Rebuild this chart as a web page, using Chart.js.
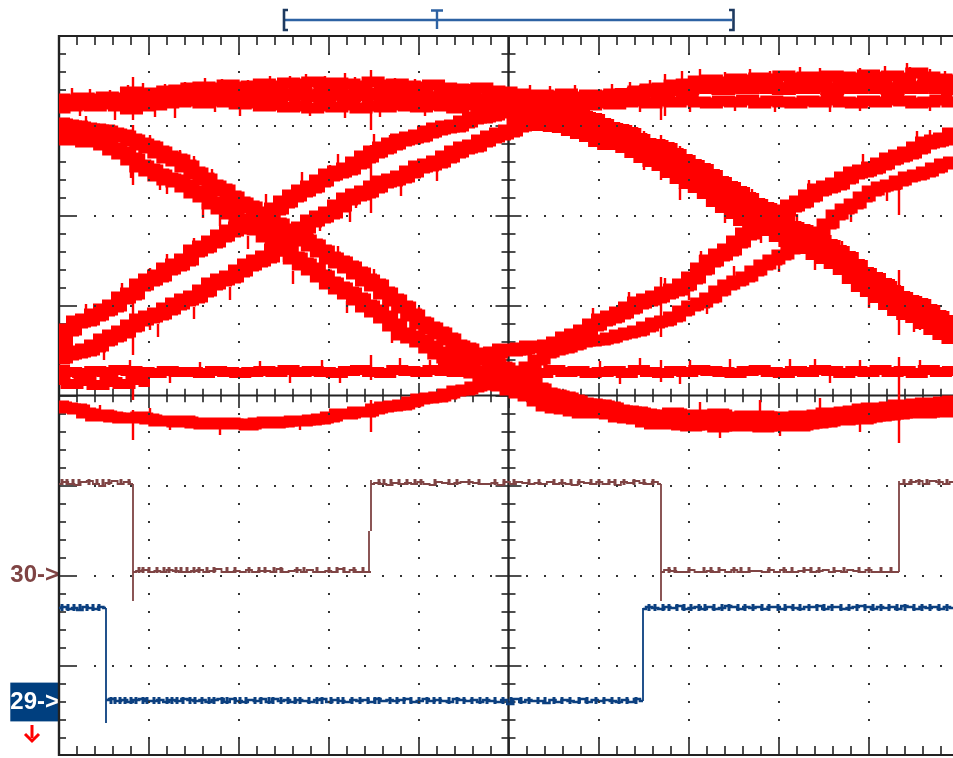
<!DOCTYPE html>
<html><head><meta charset="utf-8">
<style>html,body{margin:0;padding:0;background:#fff}canvas{display:block}</style>
<script src="https://cdn.jsdelivr.net/npm/chart.js@4/dist/chart.umd.min.js"></script>
</head><body><canvas id="c" width="953" height="758"></canvas>
<script>
// Scope units: time counts (1 div = 90) and level counts (1 div = 90)
const timeMax = 894, levelMax = 720, divCounts = 90, minorCounts = 18;
const centerTime = 450, centerLevel = 360;
const channelTicks = [181, 54];
const channelLabels = ["30->", "29->"];

const topUpper = [657,656,658,657,659,658,664,662,663,665,666,668,669,668,671,669,670,672,670,673,672,674,671,673,672,670,674,671,672,670,669,671,668,667,666,668,665,664,662,660,661,660,662,659,661,660,662,661,665,667,668,671,672,675,676,674,677,676,678,677,680,678,679,677,680,679,678,681,679,680,678,683,679,677,676];
const topLower = [648,650,651,650,652,650,647,650,651,653,654,655,653,655,654,652,653,650,651,649,650,648,650,649,651,648,650,649,651,650,649,651,650,648,651,649,650,648,650,649,651,650,652,650,651,653,652,654,655,653,655,654,656,654,653,655,654,656,653,655,654,653,655,654,656,654,653,655,654,656,655,653,654,656,654];
const topMiddle = [654,655,654,656,654,655,656,657,658,657,659,658,660,659,660,661,660,661,662,661,662,660,661,662,660,661,662,660,661,659,660,658,659,657,658,656,657,656,655,656,655,657,656,658,657,659,660,662,663,665,664,666,667,669,668,667,669,668,670,668,667,669,668,670,667,669,668,670,668,667,669,668,670,668,667];
const fallA = [632,630,629,627,626,625,622,620,616,612,609,604,599,596,590,583,577,570,566,559,553,549,542,536,532,526,520,516,511,505,498,494,489,483,476,471,463,456,449,441,433,428,423,417,410,407,402,397,392,388,383,378,373,367,362,360,358,355,352,351,350,348,345,344,343,341,339,340,342,340,338,340,339,341,338,337,339,337,339,338,336,338,339,338,340,342,342,343,344,346,347,346,348,350,350,351,352,352,353,354];
const fallB = [619,617,618,615,615,612,607,603,597,590,586,581,577,575,570,564,560,553,548,543,536,530,527,520,514,506,498,492,487,480,473,468,463,457,450,445,439,431,422,419,415,409,403,399,395,390,384,380,376,371,367,364,361,356,351,349,348,346,344,344,345,343,340,339,338,335,333,333,335,332,331,333,332,330,332,331,333,331,330,332,331,332,331,333,334,335,337,337,339,338,340,341,342,343,344,345,344,346,345,347];
const riseA = [411,426,434,436,441,446,450,458,462,471,476,480,487,491,496,505,509,514,520,525,528,535,541,543,547,554,560,565,569,575,581,584,587,593,599,604,608,612,616,618,620,624,627,629,630,634,638,639,641,644,647,648,649,651,653,653];
const riseB = [398,402,404,406,410,416,420,424,430,436,439,442,447,452,456,459,465,472,476,479,485,491,495,499,506,514,519,528,535,539,543,550,557,561,564,569,574,576,579,584,589,591,594,599,604,608,610,615,619,622,625,630,635,638,640,644,647,648];
const riseC = [390,392,394,397,398,399,403,406,406,407,409,409,410,413,418,421,425,431,436,439,443,448,453,456,459,463,466,471,478,487,495,501,506,514,522,527,532,539,545,550,554,560,566,569,572,578,583,585,588,592,597,600,603,608,613,615,617,622];
const lowCurve = [350,348,347,343,340,341,339,338,338,339,337,335,335,334,335,333,332,333,332,333,332,331,333,334,333,334,335,335,336,337,339,342,342,344,344,347,349,350,351,354,357,358,359,362,365,366,369,371,375,378,380,385,389,396,403,406,408,411,414,415,416,418,421,423,425,429,433,435,439,445,450,453,458,465,471,475,479,485,491,496,501,507,513,518,524,532,541,547,552,559,565,569,571,575,579,581,584,588,592,594];
const fallC = [644,645,643,644,643,644,642,639,638,636,631,627,625,622,616,611,610,607,601,595,590,586,580,573,568,563,557,551,547,542,535,528,525,521,515,510,504,498,490,482,477,471,464,458,454,451,445,439,434,429];
const fallD = [631,633,632,634,632,631,630,627,624,621,616,613,613,610,605,600,596,592,585,579,574,570,564,556,550,544,537,533,531,527,521,516,513,509,503,499,494,488,479,471,466,460,453,447,443,440,434,428,423,419];
const flatBand = [386,384,383,385,384,386,385,384,383,385,384,384,383,385,384,383,384,385,384,386,384,385,384,383,385,386,384,383,386,385,384,386,385,384,386,385,384,383,385,384,383,386,384,385,383,384,385,383,386,384,383,385,384,386,385,384,383,385,386,384,383,385,384,386,385,383,385,384,386,384,385,383,386,384,385];
const flatLeft = [376,372,375,371,374,372,376,374];

const brownHighA = [272,274,272,271,274,275,272,270,273,275,272,274,272];
const brownLowA = [184,185,186,184,185,184,186,185,184,184,185,186,184,185,187,184,184,185,184,186,184,185,185,184,187,184,185,186,184,186,184,184,185,184,187,184,186,184,184,184];
const brownHighB = [272,273,272,271,273,272,273,272,274,272,271,274,273,272,273,274,274,273,272,272,273,271,274,272,274,273,272,273,272,274,272,273,272,271,274,273,272,274,272,274,271,274,273,275,273,272,274,272];
const brownLowB = [184,186,185,184,184,186,184,184,185,184,186,184,186,184,184,185,185,184,186,184,186,184,184,185,186,184,185,186,184,185,184,186,185,184,186,184,184,184,184,184];
const brownHighC = [272,272,274,275,272,275,274,272,274];
const brownLowBlobs = [80,84,90,98,105,110,117,122,128,135,140,148,155,168,176,190,200,206,215,222,238,245,258,270,278,285,295,304,610,616,630,645,652,660,675,682,690,710,725,733,745,752,760,775,785,800,810,822,832];
const brownHighBlobs = [3,8,14,20,30,38,44,50,62,70,320,325,332,340,348,356,362,376,390,398,410,420,436,445,455,470,480,495,503,512,520,532,540,550,556,565,575,585,594,845,852,860,868,880,888];
const brownLowLevel = 184, brownHighLevel = 272, brownBlobHeight = 5;

const blueHighA = [148,149,147,148,146,149,148,147,149,148];
const blueLow = [56,57,55,56,54,56,57,55,55,56,54,56,55,57,56,55,56,54,56,57,54,57,55,54,56,55,57,54,57,55,56,54,56,55,54,56,57,54,56,55,54,56,55,56,54,57,55,56,55,56,57,54,55,57,55,56,55,54,57,56,55,56,54,56,55,54,56,52,57,54,56,55,55,53,56,54,56,55,54,57,54,56,55,56,55,54,56,54,57,55];
const blueHighB = [147,149,148,147,149,148,150,147,148,149,147,149,147,148,150,149,147,149,148,149,147,149,149,147,149,148,147,149,149,150,147,149,149,147,148,149,150,149,147,149,148,149,147,150,149,147,149,148,149,147,149,148];
const blueLowBlobs = [52,56,61,66,72,77,84,88,95,100,108,113,118,124,131,136,143,150,155,163,168,176,181,187,196,202,210,214,222,229,236,241,250,258,263,272,279,284,293,301,309,316,320,331,338,345,352,360,368,375,381,390,398,405,413,421,428,436,444,452,462,470,479,486,495,503,511,520,528,537,545,553,560,568,577];
const blueHighBlobs = [3,9,15,21,28,34,40,590,596,604,610,618,625,632,640,646,655,663,670,679,686,694,703,710,719,726,734,741,750,758,765,773,782,790,798,806,814,822,830,838,846,855,863,871,880,888];
const blueLowLevel = 53, blueHighLevel = 146, blueBlobHeight = 6;

// Glitches and edge roughness: time, level from, level to
const roughTime = [74,74,74,74,74,312,312,312,312,602,602,602,602,840,840,840,840,848,
13,31,51,69,84,106,126,146,163,189,211,231,247,266,286,296,336,356,381,411,431,471,491,516,553,571,591,606,623,641,666,691,711,741,761,779,801,826,851,871,886,
21,56,96,116,156,181,251,286,321,366,581,606,631,676,716,771,801,871,
71,141,201,263,341,371,411,541,581,631,671,731,756,801,861,
111,231,281,561,621,771,
41,91,641,701,761,111,161,241,661,721,801,
56,91,146,271,331,91,181,291,91,121,271,361,101,161,641,701,791,871,661,841,671,821,711,861,
27,63,108,135,171,207,243,279,315,
45,99,135,171,225,261,297,342,378,
27,63,99,135,153,207,243,279,315,360,
72,108,144,189,234,288,333,
585,621,657,693,738,783,837,
585,621,666,702,756,810,855,
534,570,606,642,696,750,804,858,
630,675,648,720,792,828];
const roughFrom = [679,631,453,381,346,686,611,401,356,651,621,479,396,566,486,399,346,693,
668,667,666,671,673,672,674,678,677,676,680,680,682,680,683,679,678,677,674,672,671,671,670,671,672,674,676,682,685,687,684,687,685,689,688,685,688,690,689,687,685,
650,650,652,652,655,654,652,650,650,652,655,655,655,655,655,655,655,655,
396,394,395,396,398,396,396,395,398,396,397,397,397,396,396,
373,373,373,372,372,373,
351,348,354,356,358,326,321,326,318,320,324,
464,488,520,591,621,426,473,534,621,606,511,446,566,530,501,541,586,626,456,566,576,481,514,426,
440,462,488,505,532,550,572,590,610,
408,432,449,469,507,540,562,572,588,
630,618,600,588,575,540,520,498,475,437,
590,574,552,520,485,455,425,
612,598,575,555,530,503,463,
598,568,545,525,498,462,436,
436,452,466,492,532,565,590,612,
456,478,452,495,546,566];
const roughTo = [636,571,401,356,316,626,543,376,324,636,576,419,374,541,421,356,313,681,
656,655,654,659,661,660,662,666,665,664,668,668,670,668,671,667,666,665,662,660,659,659,658,659,660,662,664,670,673,675,672,675,673,677,676,673,676,678,677,675,673,
640,636,639,638,644,640,640,638,639,640,644,640,644,645,644,644,645,645,
384,384,384,384,384,384,384,384,384,384,384,384,384,384,384,
384,384,384,384,384,384,
340,338,342,342,340,336,334,336,332,332,340,
452,476,508,579,609,438,483,546,609,594,499,434,576,542,490,530,575,615,466,576,565,470,525,436,
452,473,502,518,546,562,584,602,622,
396,419,437,456,494,525,548,560,575,
640,628,612,600,587,552,532,510,487,449,
578,562,538,507,472,443,413,
625,610,587,567,542,515,475,
586,556,533,513,486,448,424,
448,464,478,505,544,576,602,625,
466,490,442,484,534,555];

// Small holes left between sweeps
const speckTime = [14,26,13,31,41,56,61,86,111,119,111,131,141,156,166,176,181,10,20,37,43,10,17,60,77,107,127,147,163,187,200,233,247,267,283,273,293,698,746,8,34,44,64,778,801,814,401,414,428,401,374,471,508];
const speckLevel = [639,639,626,623,623,625,614,604,591,584,578,576,573,566,558,546,541,423,419,413,406,399,409,426,426,441,459,468,479,494,501,503,509,496,483,478,466,556,548,463,474,486,494,501,481,474,636,631,633,616,653,656,653];

const brownEdgeTime = [74,310,312,602,840];
const brownEdgeFrom = [272,184,225,272,184];
const brownEdgeTo = [155,225,276,155,275];
const blueEdgeTime = [47,584];
const blueEdgeFrom = [148,55];
const blueEdgeTo = [33,148];

const spread = (x0, x1, vals) => vals.map((y, i) => ({ x: x0 + (x1 - x0) * i / (vals.length - 1), y }));
const bars = (ts, a, b) => ts.flatMap((t, i) => [{ x: t, y: a[i] }, { x: t, y: b[i] }, { x: t, y: null }]);
const blobs = (ts, level, h) => ts.flatMap(t => [{ x: t, y: level - 1 }, { x: t, y: level + h }, { x: t, y: null }]);

const RED = '#ff0000', BROWN = '#7f4444', BLUE = '#0c4080', INK = '#222222';
const stepLine = (data, color, width) => ({ data, borderColor: color, borderWidth: width, pointRadius: 0, stepped: 'middle', borderJoinStyle: 'miter', borderCapStyle: 'butt', spanGaps: false, fill: false });
const plainLine = (data, color, width) => ({ data, borderColor: color, borderWidth: width, pointRadius: 0, borderCapStyle: 'butt', spanGaps: false, fill: false, tension: 0 });
// each slanted band is swept twice, a little apart in time (scope jitter)
const jitter = 4;
const sweep = (x0, x1, vals, width) => [stepLine(spread(x0, x1, vals), RED, width), stepLine(spread(x0 + jitter, x1 + jitter, vals), RED, width - 2)];

const datasets = [
  stepLine(spread(0, timeMax, topUpper), RED, 11),
  stepLine(spread(0, timeMax, topLower), RED, 11),
  stepLine(spread(0, timeMax, topMiddle), RED, 12),
  ...sweep(0, timeMax, fallA, 13),
  ...sweep(0, timeMax, fallB, 13),
  ...sweep(0, 495, riseA, 13),
  ...sweep(0, 513, riseB, 13),
  ...sweep(381, timeMax, riseC, 13),
  ...sweep(0, timeMax, lowCurve, 11),
  ...sweep(450, timeMax, fallC, 14),
  ...sweep(450, timeMax, fallD, 14),
  stepLine(spread(0, timeMax, flatBand), RED, 10),
  stepLine(spread(0, 91, flatLeft), RED, 10),
  plainLine(bars(roughTime, roughFrom, roughTo), RED, 2.4),
  plainLine(speckTime.flatMap((t, i) => [{ x: t, y: speckLevel[i] - 1.5 }, { x: t, y: speckLevel[i] + 1.5 }, { x: t, y: null }]), '#ffffff', 3),
  stepLine(spread(0, 74, brownHighA), BROWN, 1.8),
  stepLine(spread(74, 312, brownLowA), BROWN, 1.8),
  stepLine(spread(312, 602, brownHighB), BROWN, 1.8),
  stepLine(spread(602, 840, brownLowB), BROWN, 1.8),
  stepLine(spread(840, timeMax, brownHighC), BROWN, 1.8),
  plainLine(blobs(brownLowBlobs, brownLowLevel, brownBlobHeight), BROWN, 3),
  plainLine(blobs(brownHighBlobs, brownHighLevel, brownBlobHeight), BROWN, 3),
  plainLine(bars(brownEdgeTime, brownEdgeFrom, brownEdgeTo), BROWN, 1.8),
  stepLine(spread(0, 47, blueHighA), BLUE, 2.6),
  stepLine(spread(47, 584, blueLow), BLUE, 2.6),
  stepLine(spread(584, timeMax, blueHighB), BLUE, 2.6),
  plainLine(blobs(blueLowBlobs, blueLowLevel, blueBlobHeight), BLUE, 3),
  plainLine(blobs(blueHighBlobs, blueHighLevel, blueBlobHeight), BLUE, 3),
  plainLine(bars(blueEdgeTime, blueEdgeFrom, blueEdgeTo), BLUE, 1.8)
];

const seq = (from, to, step) => { const o = []; for (let v = from; v <= to; v += step) o.push(v); return o; };

const scopeFrame = {
  id: 'scopeFrame',
  beforeDatasetsDraw(chart) {
    const { ctx, scales: { x, y } } = chart;
    const px = v => x.getPixelForValue(v), py = v => y.getPixelForValue(v);
    const seg = (a, b, c, d, w) => { ctx.lineWidth = w; ctx.beginPath(); ctx.moveTo(a, b); ctx.lineTo(c, d); ctx.stroke(); };
    ctx.save();
    ctx.strokeStyle = INK; ctx.lineCap = 'butt';
    const X0 = px(0), Y1 = py(levelMax), Y0 = py(0) - 1, CX = px(centerTime) - 0.5, CY = py(centerLevel) - 0.5;
    seg(X0, Y1, px(timeMax), Y1, 2);
    seg(X0, Y1 - 1, X0, Y0 + 1, 2.4);
    seg(X0, Y0, px(timeMax), Y0, 2);
    seg(X0, CY, px(timeMax), CY, 2);
    seg(CX, Y1, CX, Y0, 2.4);
    seq(minorCounts, timeMax, minorCounts).forEach(t => {
      const major = t % divCounts === 0, p = px(t);
      seg(p, Y1, p, Y1 + (major ? 18 : 9), 1.6);
      seg(p, Y0, p, Y0 - (major ? 18 : 9), 1.6);
      const r = major ? 12.5 : 6.7;
      seg(p, CY - r, p, CY + r, 1.6);
    });
    seq(minorCounts, levelMax - minorCounts, minorCounts).forEach(l => {
      const major = l % divCounts === 0, p = py(l);
      seg(X0, p, X0 + (major ? 18 : 7), p, 1.6);
      const r = major ? 13 : 7;
      seg(CX - r, p, CX + r, p, 1.6);
    });
    ctx.restore();
  },
  afterDatasetsDraw(chart) {
    const { ctx, scales: { x, y } } = chart;
    const px = v => x.getPixelForValue(v), py = v => y.getPixelForValue(v);
    ctx.save();
    ctx.fillStyle = '#333';
    seq(divCounts, timeMax, divCounts).forEach(t => {
      if (t === centerTime) return;
      seq(minorCounts, levelMax - minorCounts, minorCounts).forEach(l => {
        if (l === centerLevel) return;
        ctx.fillRect(px(t) - 1, py(l) - 1, 2, 2);
      });
    });
    seq(divCounts, levelMax - divCounts, divCounts).forEach(l => {
      if (l === centerLevel) return;
      seq(minorCounts + minorCounts, timeMax, minorCounts).forEach(t => {
        if (t === centerTime) return;
        ctx.fillRect(px(t) - 1, py(l) - 1, 2, 2);
      });
    });
    // trigger marker above the grid
    const markY = 20;
    ctx.strokeStyle = '#2d62a3'; ctx.lineWidth = 2.4;
    ctx.beginPath(); ctx.moveTo(285, markY); ctx.lineTo(732, markY); ctx.moveTo(437, 11); ctx.lineTo(437, 29); ctx.moveTo(431, 10.5); ctx.lineTo(443, 10.5); ctx.stroke();
    ctx.strokeStyle = '#1d3a60'; ctx.lineWidth = 2.6;
    ctx.beginPath(); ctx.moveTo(288, 10); ctx.lineTo(284, 10); ctx.lineTo(284, 30); ctx.lineTo(288, 30);
    ctx.moveTo(729, 10); ctx.lineTo(733.5, 10); ctx.lineTo(733.5, 30); ctx.lineTo(729, 30); ctx.stroke();
    // off-screen arrow under channel 29
    ctx.strokeStyle = RED; ctx.lineWidth = 3;
    ctx.beginPath(); ctx.moveTo(32, 725); ctx.lineTo(32, 738); ctx.stroke();
    ctx.beginPath(); ctx.moveTo(25, 734); ctx.lineTo(32, 741); ctx.lineTo(39, 734); ctx.stroke();
    ctx.restore();
  }
};

new Chart(document.getElementById('c'), {
  type: 'line',
  data: { datasets },
  plugins: [scopeFrame],
  options: {
    responsive: false, animation: false, parsing: true,
    layout: { padding: { left: 0, right: 0, top: 36, bottom: 2 } },
    plugins: { legend: { display: false }, tooltip: { enabled: false } },
    scales: {
      x: { type: 'linear', min: 0, max: timeMax, display: false },
      y: {
        type: 'linear', min: 0, max: levelMax, position: 'left',
        border: { display: false }, grid: { display: false, drawTicks: false, tickLength: 0 },
        afterFit(s) { s.width = 59; s.paddingTop = 0; s.paddingBottom = 0; s.paddingLeft = 0; s.paddingRight = 0; },
        afterBuildTicks(s) { s.ticks = channelTicks.map(value => ({ value })); },
        ticks: {
          padding: 0, autoSkip: false, crossAlign: 'near',
          font: { family: '"Liberation Sans"', size: 24, weight: 'bold' },
          color: c => c.index === 0 ? BROWN : '#ffffff',
          callback: (v, i) => channelLabels[i],
          showLabelBackdrop: c => c.index === 1,
          backdropColor: '#003f7f',
          backdropPadding: { x: 0, y: 5 }
        }
      }
    }
  }
});
</script></body></html>
